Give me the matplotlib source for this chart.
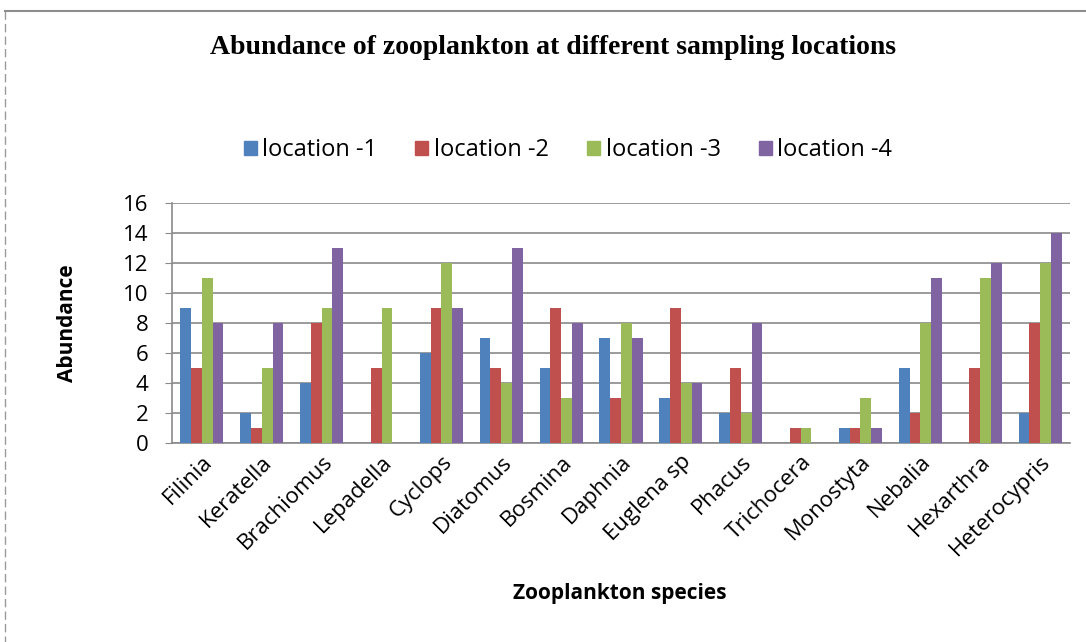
import matplotlib
matplotlib.use("Agg")
import matplotlib.pyplot as plt
import numpy as np
from matplotlib.patches import Rectangle
from matplotlib.lines import Line2D

species = ["Filinia", "Keratella", "Brachiomus", "Lepadella", "Cyclops", "Diatomus",
           "Bosmina", "Daphnia", "Euglena sp", "Phacus", "Trichocera", "Monostyta",
           "Nebalia", "Hexarthra", "Heterocypris"]
location_1 = [9, 2, 4, 0, 6, 7, 5, 7, 3, 2, 0, 1, 5, 0, 2]
location_2 = [5, 1, 8, 5, 9, 5, 9, 3, 9, 5, 1, 1, 2, 5, 8]
location_3 = [11, 5, 9, 9, 12, 4, 3, 8, 4, 2, 1, 3, 8, 11, 12]
location_4 = [8, 8, 13, 0, 9, 13, 8, 7, 4, 8, 0, 1, 11, 12, 14]
series_names = ["location -1", "location -2", "location -3", "location -4"]
colors = ["#4F81BD", "#C0504D", "#9BBB59", "#8064A2"]
yticks = [0, 2, 4, 6, 8, 10, 12, 14, 16]

W, H = 1086, 642
fig = plt.figure(figsize=(W / 100, H / 100), dpi=100)
fig.patch.set_facecolor("white")

# chart frame
fig.add_artist(Line2D([5 / W, 1.2], [1 - 11 / H, 1 - 11 / H], color="#8c8c8c", lw=1.5,
                      transform=fig.transFigure))
fig.add_artist(Line2D([5 / W, 5 / W], [1 - 11 / H, -0.1], color="#9a9a9a", lw=1.0,
                      ls=(0, (6, 3)), transform=fig.transFigure))

ax = fig.add_axes([172 / W, 1 - 443 / H, (1070 - 172) / W, (443 - 203) / H])

x = np.arange(len(species))
bw = 0.18
data = [location_1, location_2, location_3, location_4]
for i, (vals, c, name) in enumerate(zip(data, colors, series_names)):
    ax.bar(x + (i - 1.5) * bw, vals, width=bw, color=c, label=name, zorder=3)

ax.set_xlim(-0.5, len(species) - 0.5)
ax.set_ylim(0, 16)
ax.set_yticks(yticks)
ax.yaxis.grid(True, color="#8a8a8a", lw=1.2, zorder=0)
for s in ["top", "right"]:
    ax.spines[s].set_visible(False)
ax.spines["left"].set_color("#8a8a8a")
ax.spines["bottom"].set_color("#8a8a8a")
ax.spines["left"].set_linewidth(1.2)
ax.spines["bottom"].set_linewidth(1.2)
ax.tick_params(axis="y", length=5, color="#8a8a8a", labelsize=16, pad=12)
ax.tick_params(axis="x", length=0, pad=6)
ax.set_xticks(x)
ax.set_xticklabels(species, rotation=45, ha="right", rotation_mode="anchor",
                   fontsize=16, family="Open Sans")
for lab in ax.get_yticklabels():
    lab.set_family("Open Sans")

ax.set_ylabel("Abundance", fontsize=15, fontweight="bold", family="Open Sans")
ax.yaxis.set_label_coords(-0.105, 0.5)
fig.text(620 / W, 1 - 594 / H, "Zooplankton species", fontsize=15, fontweight="bold",
         family="Open Sans", ha="center", va="center")

fig.text(553 / W, 1 - 48 / H, "Abundance of zooplankton at different sampling locations",
         fontsize=20, fontweight="bold", family="Liberation Serif", ha="center", va="center")

handles = [Rectangle((0, 0), 1, 1, color=c) for c in colors]
fig.legend(handles, series_names, loc="center", bbox_to_anchor=(568 / W, 1 - 150 / H),
           ncol=4, frameon=False, handlelength=0.55, handleheight=0.55,
           handletextpad=0.25, columnspacing=1.6, prop={"family": "Open Sans", "size": 17})

fig.savefig("out.png", dpi=100, facecolor="white")
